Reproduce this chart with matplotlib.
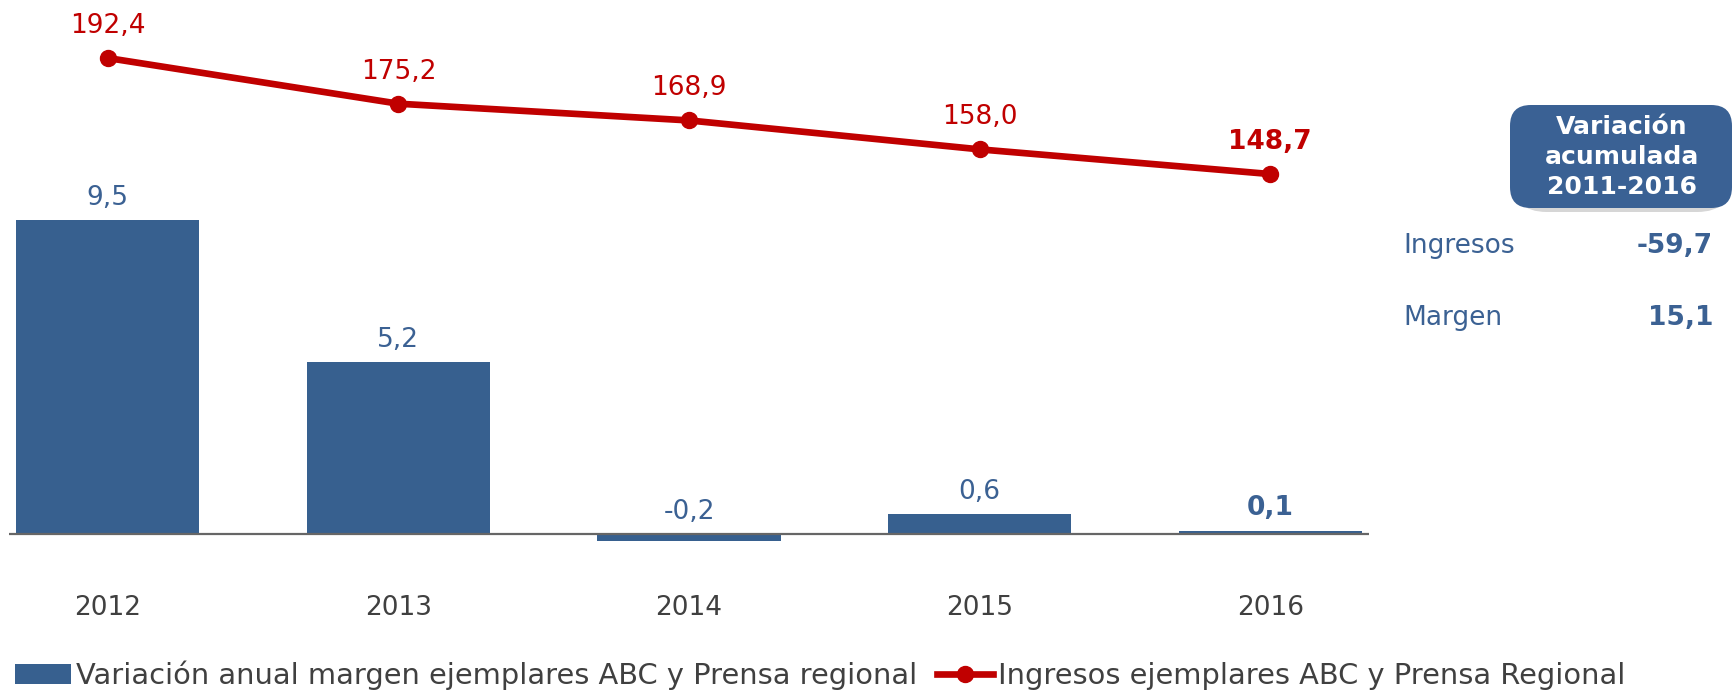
import matplotlib
matplotlib.use('Agg')
import matplotlib.pyplot as plt
from matplotlib.patches import FancyBboxPatch
import numpy as np

plt.rcParams['font.family'] = ['DejaVu Sans']

# data
years = ['2012', '2013', '2014', '2015', '2016']
margen = [9.5, 5.2, -0.2, 0.6, 0.1]
ingresos = [192.4, 175.2, 168.9, 158.0, 148.7]
resumen_labels = ['Ingresos', 'Margen']
resumen_values = ['-59,7', '15,1']

blue = '#37608f'
label_blue = '#3b6193'
red = '#c00000'
grey = '#404040'

def fmt(v):
    return f'{v:.1f}'.replace('.', ',')

fig = plt.figure(figsize=(17.35, 6.93), dpi=100)
ax = fig.add_axes([9/1735, 1 - 560/693, 1360/1735, 550/693])
ax2 = ax.twinx()

x = np.arange(len(years))
ax.bar(x, margen, width=0.63, color=blue, zorder=2)
ax.axhline(0, color='#666666', lw=1.6, zorder=3)
ax.set_xlim(-0.34, 4.34)
ax.set_ylim(-0.787, 15.855)

for i, v in enumerate(margen):
    bold = i == len(margen) - 1
    ax.annotate(fmt(v), (i, max(v, 0)), xytext=(0, 16), textcoords='offset points',
                ha='center', va='center', fontsize=19, color=label_blue,
                fontweight='bold' if bold else 'normal')

ax2.plot(x, ingresos, color=red, lw=4.8, marker='o', markersize=11.5, zorder=4)
ax2.set_ylim(3.3, 210.5)
for i, v in enumerate(ingresos):
    bold = i == len(ingresos) - 1
    ax2.annotate(fmt(v), (i, v), xytext=(0, 23), textcoords='offset points',
                 ha='center', va='center', fontsize=19, color=red,
                 fontweight='bold' if bold else 'normal')

ax.set_xticks(x)
ax.set_xticklabels(years, fontsize=19, color=grey)
ax.tick_params(axis='x', length=0, pad=25)
ax.set_yticks([])
ax2.set_yticks([])
for a in (ax, ax2):
    for s in a.spines.values():
        s.set_visible(False)

# summary box on the right
W, H = 1735, 693
shadow = FancyBboxPatch((1512/W, 1 - 212/H), 220/W, 100/H,
                        boxstyle='round,pad=0,rounding_size=0.02',
                        transform=fig.transFigure, facecolor='#bbbbbb',
                        edgecolor='none', alpha=0.6, mutation_aspect=W/H)
box = FancyBboxPatch((1510/W, 1 - 208/H), 222/W, 103/H,
                     boxstyle='round,pad=0,rounding_size=0.012',
                     transform=fig.transFigure, facecolor='#3a6194',
                     edgecolor='none', mutation_aspect=W/H)
fig.patches.extend([shadow, box])
fig.text(1622/W, 1 - 157/H, 'Variación\nacumulada\n2011-2016', ha='center', va='center',
         fontsize=18, fontweight='bold', color='white', linespacing=1.33)

for lab, val, yy in zip(resumen_labels, resumen_values, [246, 318]):
    fig.text(1403/W, 1 - yy/H, lab, ha='left', va='center', fontsize=19, color=label_blue)
    fig.text(1713/W, 1 - yy/H, val, ha='right', va='center', fontsize=19,
             color=label_blue, fontweight='bold')

handles = [ax.containers[0], ax2.lines[0]]
fig.legend(handles, ['Variación anual margen ejemplares ABC y Prensa regional',
                     'Ingresos ejemplares ABC y Prensa Regional'],
           loc='center left', bbox_to_anchor=(15/W, 1 - 675/H), ncol=2, frameon=False,
           fontsize=20.8, labelcolor=grey, handlelength=1.95, handletextpad=0.15,
           columnspacing=0.7, borderpad=0, borderaxespad=0)

fig.savefig('out.png', dpi=100)
